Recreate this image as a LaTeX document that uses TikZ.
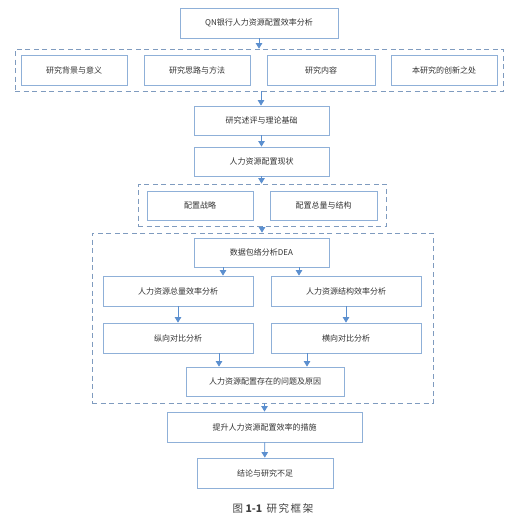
\documentclass[tikz,border=0pt]{standalone}
\usepackage{fontspec}
\newfontfamily\cjk{Noto Sans CJK SC}
\usetikzlibrary{arrows.meta,positioning}
\definecolor{boxline}{HTML}{8FB0D8}
\definecolor{grpline}{HTML}{7F9BBF}
\definecolor{arrcol}{HTML}{5B8FCF}
\tikzset{
  box/.style={draw=boxline,line width=0.8pt,fill=white,inner sep=0pt,
    font=\cjk\fontsize{8}{9.5}\selectfont,text=black!80},
  group/.style={draw=grpline,line width=0.8pt,dash pattern=on 5pt off 3.5pt,inner sep=0pt},
  arr/.style={-{Triangle[length=5.5pt,width=6.5pt]},draw=arrcol,fill=arrcol,line width=0.8pt}
}

\begin{document}
\begin{tikzpicture}[x=1pt,y=-1pt]
    \useasboundingbox (0,0) rectangle (521,522);
    % groups (dashed)
    \node[group,minimum width=488pt,minimum height=42pt] (g1) at (259,70){};
    \node[group,minimum width=248pt,minimum height=42pt] (g2) at (262,205){};
    \node[group,minimum width=341pt,minimum height=170pt] (g3) at (262.5,318){};
    % main line
    \node[box,minimum width=158pt,minimum height=30pt] (title) at (259,23){QN银行人力资源配置效率分析};
    \node[box,minimum width=106pt,minimum height=30pt] (bg) at (74,70){研究背景与意义};
    \node[box,minimum width=106pt,minimum height=30pt] (idea) at (197,70){研究思路与方法};
    \node[box,minimum width=108pt,minimum height=30pt] (cont) at (321,70){研究内容};
    \node[box,minimum width=106pt,minimum height=30pt] (inno) at (444,70){本研究的创新之处};
    \node[box,minimum width=135pt,minimum height=29pt] (rev) at (261.5,120.5){研究述评与理论基础};
    \node[box,minimum width=135pt,minimum height=29pt] (stat) at (261.5,161.5){人力资源配置现状};
    \node[box,minimum width=106pt,minimum height=29pt] (strat) at (200,205.5){配置战略};
    \node[box,minimum width=107pt,minimum height=29pt] (tot) at (323.5,205.5){配置总量与结构};
    \node[box,minimum width=135pt,minimum height=29pt] (dea) at (261.5,252.5){数据包络分析DEA};
    \node[box,minimum width=150pt,minimum height=30pt] (qty) at (178,291){人力资源总量效率分析};
    \node[box,minimum width=150pt,minimum height=30pt] (str) at (346,291){人力资源结构效率分析};
    \node[box,minimum width=150pt,minimum height=30pt] (vert) at (178,338){纵向对比分析};
    \node[box,minimum width=150pt,minimum height=30pt] (hori) at (346,338){横向对比分析};
    \node[box,minimum width=158pt,minimum height=29pt] (prob) at (265,381.5){人力资源配置存在的问题及原因};
    \node[box,minimum width=195pt,minimum height=30pt] (meas) at (264.5,427){提升人力资源配置效率的措施};
    \node[box,minimum width=136pt,minimum height=30pt] (conc) at (265,473){结论与研究不足};
    \node[text=black!75] (cap) at (273,508){\cjk\fontsize{10.5}{12}\selectfont 图 \textbf{1-1}\hspace{0.4em}研\hspace{0.15em}究\hspace{0.15em}框\hspace{0.15em}架};
    % arrows
    \draw[arr] (title.south) -- (title.south |- g1.north);
    \draw[arr] ([xshift=2pt]g1.south) -- ([xshift=2pt]g1.south |- rev.north);
    \draw[arr] (rev) -- (stat);
    \draw[arr] (stat.south) -- (stat.south |- g2.north);
    \draw[arr] (g2.south) -- (g2.south |- g3.north);
    \draw[arr] ([xshift=-38.5pt]dea.south) -- ([xshift=-38.5pt]dea.south |- qty.north);
    \draw[arr] ([xshift=37.5pt]dea.south) -- ([xshift=37.5pt]dea.south |- str.north);
    \draw[arr] (qty) -- (vert);
    \draw[arr] (str) -- (hori);
    \draw[arr] ([xshift=41pt]vert.south) -- ([xshift=41pt]vert.south |- prob.north);
    \draw[arr] ([xshift=-39pt]hori.south) -- ([xshift=-39pt]hori.south |- prob.north);
    \draw[arr] ([xshift=2pt]g3.south) -- ([xshift=2pt]g3.south |- meas.north);
    \draw[arr] (meas) -- (conc);
  \end{tikzpicture}
\end{document}
